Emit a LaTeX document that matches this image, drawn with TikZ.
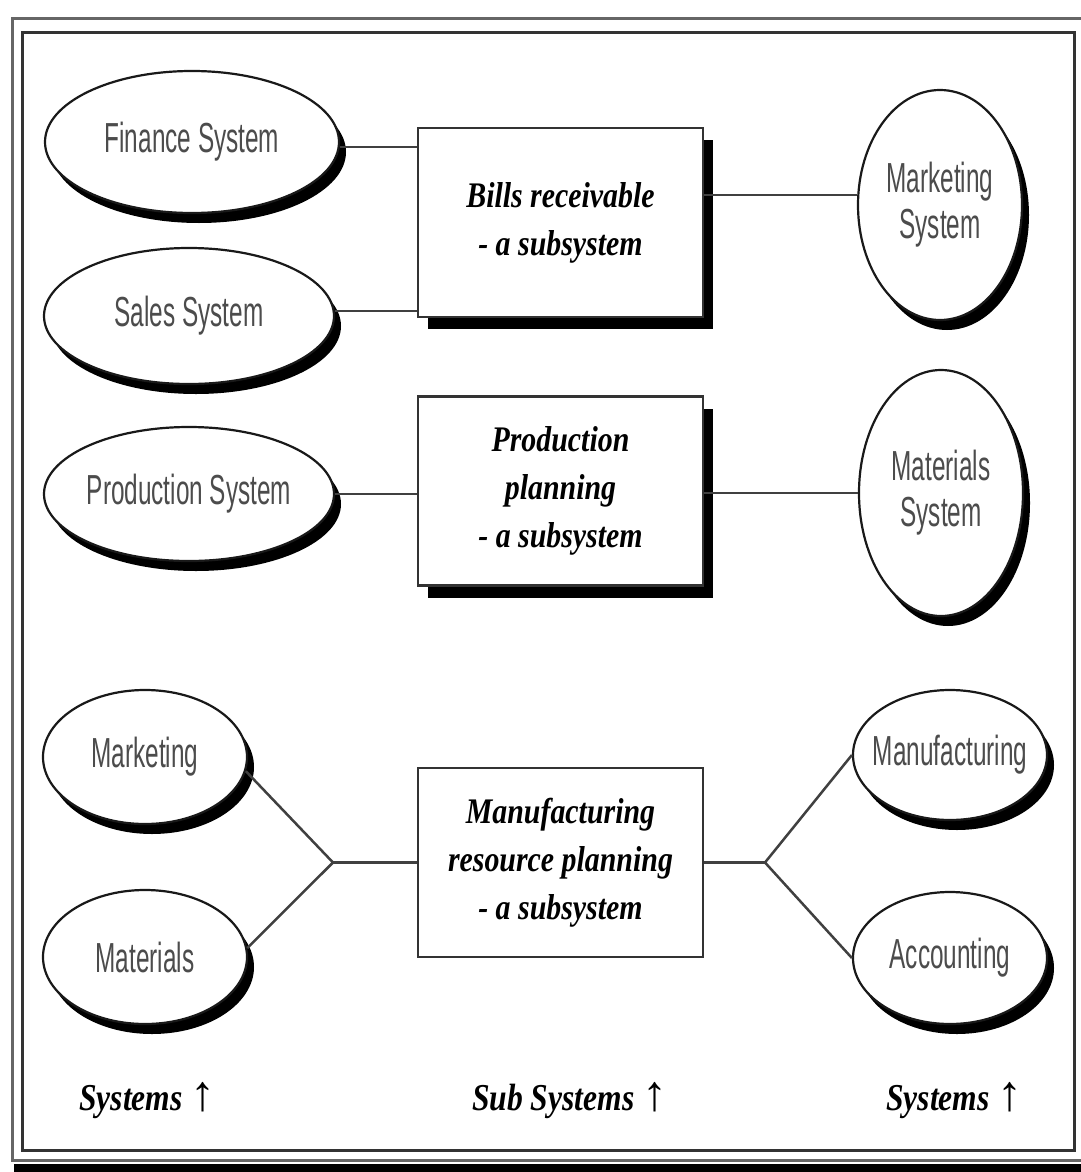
\documentclass[tikz,border=0pt]{standalone}
\usepackage{fontspec}
\setmainfont{Liberation Serif}
\newfontfamily\ellfont[FakeStretch=0.58]{Liberation Sans}
\newfontfamily\boxfont[FakeStretch=0.83]{Liberation Serif}
\usetikzlibrary{shapes.geometric,shadows}

\begin{document}
\begin{tikzpicture}[x=1pt,y=-1pt,
  sysell/.style={ellipse, draw=black!90, line width=2.2pt, fill=white, inner sep=0pt,
    drop shadow={shadow xshift=7pt, shadow yshift=-10pt, fill=black, opacity=1}},
  elltext/.style={font=\ellfont\fontsize{42}{46}\selectfont, text=black!70, align=center, inner sep=0pt},
  subbox/.style={rectangle, draw=black!80, line width=2.5pt, fill=white,
    minimum width=285pt, minimum height=189pt, inner sep=0pt, align=center,
    font=\boxfont\bfseries\itshape\fontsize{36}{48}\selectfont},
  boxshadow/.style={drop shadow={shadow xshift=10pt, shadow yshift=-12pt, fill=black, opacity=1}},
  link/.style={draw=black!75, line width=2.5pt},
  foot/.style={font=\boxfont\bfseries\itshape\fontsize{38}{40}\selectfont, anchor=base west, inner sep=0pt}
]
% page and double frame
\useasboundingbox (0,0) rectangle (1081,1172);
\fill[white] (0,0) rectangle (1081,1172);
\draw[black!60, line width=3pt] (12,19) rectangle (1095,1160);
\draw[black!80, line width=3pt] (22,33) rectangle (1074,1150);
\fill[black] (14,1164) rectangle (1081,1172);

% systems (ellipses)
\node[sysell, minimum width=294pt, minimum height=142pt,
  label={[elltext]center:Finance System}] (fin) at (192,142) {};
\node[sysell, minimum width=290pt, minimum height=136pt,
  label={[elltext]center:Sales System}] (sales) at (189,316) {};
\node[sysell, minimum width=290pt, minimum height=134pt,
  label={[elltext]center:Production System}] (prod) at (189,494) {};
\node[sysell, minimum width=164pt, minimum height=230pt,
  label={[elltext]center:{Marketing\\System}}] (mktsys) at (940,205) {};
\node[sysell, minimum width=164pt, minimum height=246pt,
  label={[elltext]center:{Materials\\System}}] (matsys) at (941,493) {};
\node[sysell, minimum width=204pt, minimum height=134pt,
  label={[elltext]center:Marketing}] (mkt) at (145,757) {};
\node[sysell, minimum width=204pt, minimum height=134pt,
  label={[elltext]center:Materials}] (mat) at (145,957) {};
\node[sysell, minimum width=194pt, minimum height=130pt,
  label={[elltext]center:Manufacturing}] (manu) at (950,755) {};
\node[sysell, minimum width=194pt, minimum height=132pt,
  label={[elltext]center:Accounting}] (acct) at (950,958) {};

% subsystems (boxes)
\node[subbox, boxshadow] (bills) at (560.5,222.5) {Bills receivable\\- a subsystem};
\node[subbox, boxshadow] (pplan) at (560.5,491) {Production\\planning\\- a subsystem};
\node[subbox] (mrp) at (560.5,862.5) {Manufacturing\\resource planning\\- a subsystem};

% connectors
\draw[link] (fin.-2) -- (fin.-2 -| bills.west);
\draw[link] (sales.2) -- (sales.2 -| bills.west);
\draw[link] (mktsys.173) -- (mktsys.173 -| bills.east);
\draw[link] (prod.east) -- (prod.east -| pplan.west);
\draw[link] (matsys.west) -- (matsys.west -| pplan.east);

\coordinate (lfork) at (333,862.5);
\coordinate (rfork) at (765,862.5);
\draw[link] (mkt.-8) -- (lfork) -- (mat.5);
\draw[link] (lfork) -- (mrp.west);
\draw[link] (mrp.east) -- (rfork);
\draw[link] (manu.west) -- (rfork) -- (acct.west);

% column captions
\node[foot] (capl) at (79,1110) {Systems {\normalfont\fontsize{50}{40}\selectfont ↑}};
\node[foot] (capm) at (472,1110) {Sub Systems {\normalfont\fontsize{50}{40}\selectfont ↑}};
\node[foot] (capr) at (886,1110) {Systems {\normalfont\fontsize{50}{40}\selectfont ↑}};
\end{tikzpicture}
\end{document}
